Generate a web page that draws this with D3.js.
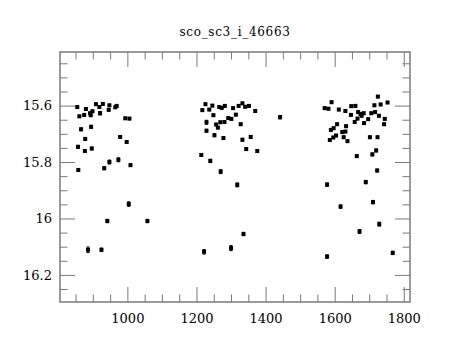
<!DOCTYPE html>
<html>
<head>
<meta charset="utf-8">
<script src="https://cdn.jsdelivr.net/npm/d3@7"></script>
<style>
  html, body { margin: 0; padding: 0; background: #fff; }
  svg { display: block; }
  text { font-family: "DejaVu Serif", "Liberation Serif", serif; fill: #000; }
</style>
</head>
<body>
<script>
const title = "sco_sc3_i_46663";

// HJD-like time values
const hjd = [
  855, 880, 909, 919, 929, 948, 946, 965, 969, 899, 892, 894, 875, 861, 921, 994, 1006,
  866, 895, 979, 998, 878, 857, 877, 897, 948, 974, 933, 1009, 858, 1004, 942, 1058, 886, 925,
  1226, 1217, 1237, 1246, 1266, 1273, 1282, 1306, 1322, 1333, 1341, 1352, 1370, 1249, 1292, 1301, 1314,
  1229, 1257, 1269, 1281, 1328, 1262, 1229, 1252, 1278, 1333, 1357, 1344, 1376, 1442,
  1214, 1240, 1270, 1318, 1336, 1300, 1222,
  1591, 1571, 1582, 1612, 1631, 1648, 1660, 1647, 1668, 1675, 1684, 1666, 1678, 1658, 1685, 1697,
  1706, 1717, 1715, 1725, 1733, 1753, 1728, 1745, 1743, 1607, 1597, 1589, 1633, 1622, 1631, 1604,
  1596, 1586, 1626, 1637, 1702, 1724, 1720, 1709, 1664, 1723, 1690, 1578, 1711, 1617, 1729, 1672,
  1768, 1578
];

// magnitudes
const mag = [
  15.605, 15.612, 15.595, 15.605, 15.594, 15.599, 15.615, 15.606, 15.601, 15.620, 15.627, 15.634, 15.633, 15.638, 15.627, 15.645, 15.646,
  15.684, 15.675, 15.711, 15.729, 15.718, 15.746, 15.761, 15.752, 15.800, 15.792, 15.822, 15.811, 15.828, 15.949, 16.009, 16.009, 16.111, 16.111,
  15.595, 15.616, 15.614, 15.600, 15.605, 15.608, 15.601, 15.609, 15.601, 15.592, 15.604, 15.601, 15.619, 15.634, 15.644, 15.647, 15.632,
  15.659, 15.667, 15.659, 15.658, 15.666, 15.678, 15.689, 15.705, 15.715, 15.721, 15.711, 15.754, 15.761, 15.641,
  15.775, 15.796, 15.834, 15.881, 16.055, 16.105, 16.118,
  15.588, 15.609, 15.611, 15.614, 15.619, 15.602, 15.601, 15.633, 15.623, 15.630, 15.627, 15.646, 15.636, 15.658, 15.662, 15.648,
  15.627, 15.623, 15.599, 15.568, 15.596, 15.589, 15.636, 15.647, 15.666, 15.666, 15.680, 15.686, 15.673, 15.694, 15.692, 15.706,
  15.713, 15.722, 15.712, 15.726, 15.712, 15.712, 15.759, 15.773, 15.779, 15.830, 15.871, 15.880, 15.942, 15.958, 16.020, 16.046,
  16.122, 16.135
];

// photometric errors
const magErr = [
  0.004, 0.004, 0.004, 0.004, 0.004, 0.004, 0.004, 0.004, 0.004, 0.004, 0.004, 0.004, 0.004, 0.004, 0.006, 0.004, 0.004,
  0.005, 0.005, 0.005, 0.005, 0.005, 0.005, 0.005, 0.005, 0.007, 0.007, 0.005, 0.005, 0.005, 0.008, 0.006, 0.006, 0.010, 0.006,
  0.004, 0.004, 0.004, 0.004, 0.004, 0.004, 0.004, 0.004, 0.004, 0.004, 0.004, 0.004, 0.004, 0.004, 0.004, 0.004, 0.004,
  0.007, 0.004, 0.004, 0.004, 0.004, 0.004, 0.005, 0.005, 0.005, 0.005, 0.005, 0.005, 0.005, 0.006,
  0.005, 0.006, 0.007, 0.007, 0.006, 0.009, 0.008,
  0.004, 0.004, 0.004, 0.004, 0.004, 0.004, 0.004, 0.004, 0.004, 0.004, 0.004, 0.004, 0.004, 0.004, 0.004, 0.004,
  0.004, 0.004, 0.004, 0.004, 0.004, 0.004, 0.004, 0.004, 0.004, 0.004, 0.004, 0.004, 0.004, 0.004, 0.004, 0.004,
  0.004, 0.004, 0.004, 0.004, 0.004, 0.004, 0.005, 0.005, 0.005, 0.005, 0.006, 0.006, 0.006, 0.006, 0.007, 0.007,
  0.006, 0.006
];

const xMajorTicks = [1000, 1200, 1400, 1600, 1800];
const xTickLabels = ["1000", "1200", "1400", "1600", "1800"];
const yMajorTicks = [15.6, 15.8, 16.0, 16.2];
const yTickLabels = ["15.6", "15.8", "16", "16.2"];

const W = 460, H = 340;
const L = 60, R = 410, T = 52, B = 302;

const x = d3.scaleLinear().domain([805, 1818]).range([L, R]);
const y = d3.scaleLinear().domain([15.41, 16.296]).range([T, B]);

const xMinor = d3.range(850, 1818, 50).filter(v => !xMajorTicks.includes(v));
const yMinor = d3.range(15.45, 16.296, 0.05).map(v => +v.toFixed(2)).filter(v => !yMajorTicks.some(t => Math.abs(t - v) < 1e-6));

const svg = d3.select("body").append("svg").attr("width", W).attr("height", H);
svg.append("rect").attr("width", W).attr("height", H).attr("fill", "#fff");

const axisColor = "#7a7a7a";
const MAJ = 15, MIN = 7.5;

function styleAxis(g) {
  g.select(".domain").remove();
  g.selectAll(".tick line").attr("stroke", axisColor).attr("stroke-width", 1);
  g.selectAll("text").attr("font-size", 13).attr("font-family", "DejaVu Serif, serif").attr("fill", "#000");
}

// bottom
svg.append("g").attr("transform", `translate(0,${B})`)
  .call(d3.axisBottom(x).tickValues(xMajorTicks).tickSize(-MAJ).tickPadding(12)
    .tickFormat((d, i) => xTickLabels[i])).call(styleAxis);
svg.append("g").attr("transform", `translate(0,${B})`)
  .call(d3.axisBottom(x).tickValues(xMinor).tickSize(-MIN).tickFormat("")).call(styleAxis);
// top
svg.append("g").attr("transform", `translate(0,${T})`)
  .call(d3.axisTop(x).tickValues(xMajorTicks).tickSize(-MAJ).tickFormat("")).call(styleAxis);
svg.append("g").attr("transform", `translate(0,${T})`)
  .call(d3.axisTop(x).tickValues(xMinor).tickSize(-MIN).tickFormat("")).call(styleAxis);
// left
svg.append("g").attr("transform", `translate(${L},0)`)
  .call(d3.axisLeft(y).tickValues(yMajorTicks).tickSize(-MAJ).tickPadding(8)
    .tickFormat((d, i) => yTickLabels[i])).call(styleAxis);
svg.append("g").attr("transform", `translate(${L},0)`)
  .call(d3.axisLeft(y).tickValues(yMinor).tickSize(-MIN).tickFormat("")).call(styleAxis);
// right
svg.append("g").attr("transform", `translate(${R},0)`)
  .call(d3.axisRight(y).tickValues(yMajorTicks).tickSize(-MAJ).tickFormat("")).call(styleAxis);
svg.append("g").attr("transform", `translate(${R},0)`)
  .call(d3.axisRight(y).tickValues(yMinor).tickSize(-MIN).tickFormat("")).call(styleAxis);

// frame
svg.append("rect").attr("x", L).attr("y", T).attr("width", R - L).attr("height", B - T)
  .attr("fill", "none").attr("stroke", axisColor).attr("stroke-width", 1.5);

// title
svg.append("text").attr("x", (L + R) / 2).attr("y", 36).attr("text-anchor", "middle")
  .attr("font-size", 12).attr("letter-spacing", 0.7).text(title);

const data = hjd.map((t, i) => ({ t, m: mag[i], e: magErr[i] }));

const pts = svg.append("g");
// error bars
pts.selectAll("line.eb").data(data).join("line").attr("class", "eb")
  .attr("x1", d => x(d.t)).attr("x2", d => x(d.t))
  .attr("y1", d => y(d.m - d.e)).attr("y2", d => y(d.m + d.e))
  .attr("stroke", "#000").attr("stroke-width", 1);
pts.selectAll("line.cap1").data(data).join("line").attr("class", "cap1")
  .attr("x1", d => x(d.t) - 1.5).attr("x2", d => x(d.t) + 1.5)
  .attr("y1", d => y(d.m - d.e)).attr("y2", d => y(d.m - d.e))
  .attr("stroke", "#000").attr("stroke-width", 1);
pts.selectAll("line.cap2").data(data).join("line").attr("class", "cap2")
  .attr("x1", d => x(d.t) - 1.5).attr("x2", d => x(d.t) + 1.5)
  .attr("y1", d => y(d.m + d.e)).attr("y2", d => y(d.m + d.e))
  .attr("stroke", "#000").attr("stroke-width", 1);
// markers
pts.selectAll("rect.pt").data(data).join("rect").attr("class", "pt")
  .attr("x", d => x(d.t) - 2).attr("y", d => y(d.m) - 2)
  .attr("width", 4).attr("height", 4).attr("fill", "#000");
</script>
</body>
</html>
